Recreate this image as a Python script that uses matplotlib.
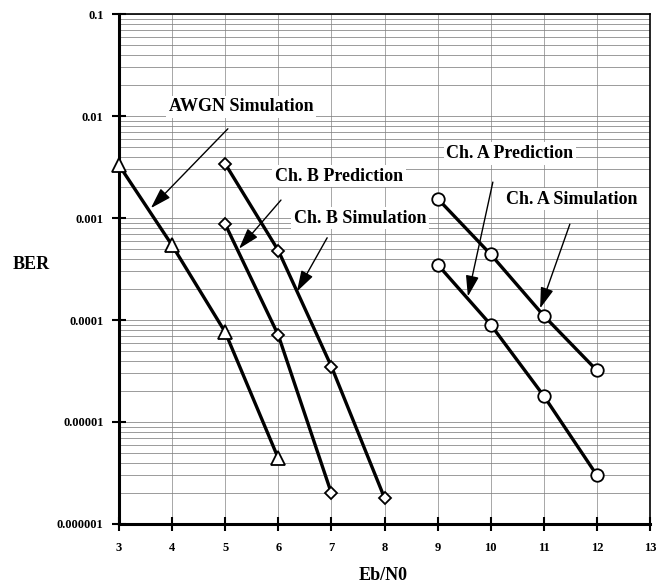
import matplotlib
matplotlib.use("Agg")
import matplotlib.pyplot as plt
from matplotlib.ticker import LogLocator, NullFormatter

plt.rcParams['font.family'] = ['Liberation Serif', 'DejaVu Serif']
plt.rcParams['font.weight'] = 'bold'

awgn_x = [3, 4, 5, 6]
awgn_sim = [3.3e-3, 5.4e-4, 7.6e-5, 4.4e-6]
chb_sim_x = [5, 6, 7, 8]
chb_sim = [3.4e-3, 4.8e-4, 3.5e-5, 1.8e-6]
chb_pred_x = [5, 6, 7]
chb_pred = [8.7e-4, 7.1e-5, 2.0e-6]
cha_x = [9, 10, 11, 12]
cha_sim = [1.55e-3, 4.4e-4, 1.1e-4, 3.2e-5]
cha_pred = [3.5e-4, 9.0e-5, 1.8e-5, 3.0e-6]

x_ticks = [3, 4, 5, 6, 7, 8, 9, 10, 11, 12, 13]
y_ticks = [1e-6, 1e-5, 1e-4, 1e-3, 1e-2, 1e-1]
y_labels = ['0.000001', '0.00001', '0.0001', '0.001', '0.01', '0.1']

fig = plt.figure(figsize=(6.56, 5.85), dpi=100)
ax = fig.add_axes([0.1814, 0.1043, 0.8095, 0.8717])
ax.set_yscale('log')
ax.set_xlim(3, 13)
ax.set_ylim(1e-6, 0.1)

ax.set_xticks(x_ticks)
ax.set_xticklabels([str(v) for v in x_ticks], fontsize=9, fontweight='bold')
ax.set_yticks(y_ticks)
ax.set_yticklabels(y_labels, fontsize=9, fontweight='bold')
ax.yaxis.set_minor_locator(LogLocator(base=10, subs=range(2, 10)))
ax.yaxis.set_minor_formatter(NullFormatter())
ax.tick_params(axis='both', which='major', direction='inout', length=10, width=1.5)
ax.tick_params(axis='x', which='major', pad=8)
ax.tick_params(axis='y', which='major', pad=6)
ax.tick_params(axis='y', which='minor', length=0)

ax.grid(True, axis='x', which='major', color='#999999', lw=0.6)
ax.grid(True, axis='y', which='both', color='#808080', lw=0.55)
ax.set_axisbelow(True)

for s in ['left', 'bottom']:
    ax.spines[s].set_linewidth(2.2)
for s in ['top', 'right']:
    ax.spines[s].set_linewidth(1.2)

lkw = dict(color='black', lw=2.4, markerfacecolor='white', markeredgecolor='black',
           markeredgewidth=1.3, zorder=3, clip_on=False)
ax.plot(awgn_x, awgn_sim, marker='^', markersize=10, **lkw)
ax.plot(chb_sim_x, chb_sim, marker='D', markersize=6.5, **lkw)
ax.plot(chb_pred_x, chb_pred, marker='D', markersize=6.5, **lkw)
ax.plot(cha_x, cha_sim, marker='o', markersize=9, **lkw)
ax.plot(cha_x, cha_pred, marker='o', markersize=9, **lkw)

tkw = dict(fontsize=13, fontweight='bold', ha='center', va='center', zorder=4,
           bbox=dict(facecolor='white', edgecolor='none', pad=2))
ax.text(5.30, 1.23e-2, 'AWGN Simulation', **tkw)
ax.text(7.14, 2.58e-3, 'Ch. B Prediction', **tkw)
ax.text(7.54, 1.0e-3, 'Ch. B Simulation', **tkw)
ax.text(10.36, 4.3e-3, 'Ch. A Prediction', **tkw)
ax.text(11.53, 1.53e-3, 'Ch. A Simulation', **tkw)

akw = dict(arrowstyle='-|>,head_length=0.8,head_width=0.25', color='black', lw=1.0,
           mutation_scale=16, shrinkA=0, shrinkB=0)
arrows = [((5.05, 7.5e-3), (3.60, 1.25e-3)),
          ((6.05, 1.5e-3), (5.26, 5.0e-4)),
          ((6.92, 6.4e-4), (6.35, 1.9e-4)),
          ((10.04, 2.25e-3), (9.57, 1.7e-4)),
          ((11.49, 8.7e-4), (10.93, 1.3e-4))]
for start, tip in arrows:
    ax.annotate('', xy=tip, xytext=start, arrowprops=akw, zorder=5)

fig.text(31 / 656, 1 - 265 / 585, 'BER', fontsize=13, fontweight='bold', ha='center', va='center')
fig.text(383 / 656, 1 - 575 / 585, 'Eb/N0', fontsize=13, fontweight='bold', ha='center', va='center')

fig.savefig('out.png', dpi=100)
